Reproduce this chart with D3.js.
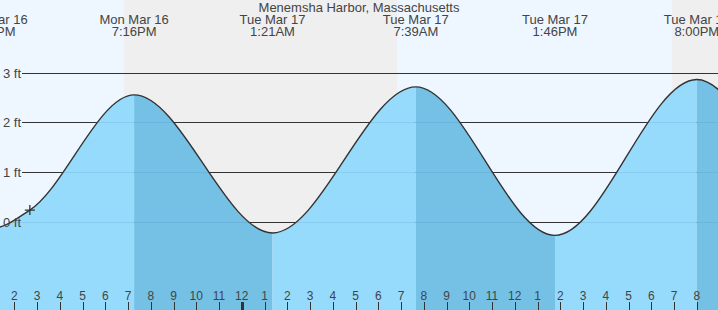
<!DOCTYPE html>
<html>
<head>
<meta charset="utf-8">
<script src="https://cdn.jsdelivr.net/npm/d3@7"></script>
<style>
html,body{margin:0;padding:0;background:#fff;}
svg{display:block;font-family:"Liberation Sans",Arial,sans-serif;}
</style>
</head>
<body>
<svg id="chart" width="718" height="310"></svg>
<script>
// ---- data ----
const title = "Menemsha Harbor, Massachusetts";
// high / low tides
const extremeTimes = ["2026-03-16T06:55","2026-03-16T13:04","2026-03-16T19:16","2026-03-17T01:21","2026-03-17T07:39","2026-03-17T13:46","2026-03-17T20:00","2026-03-18T02:10","2026-03-18T08:25"];
const extremeHeights = [2.50, -0.12, 2.56, -0.22, 2.72, -0.27, 2.87, -0.30, 2.90];
const extremeDays = ["Mon Mar 16","Mon Mar 16","Mon Mar 16","Tue Mar 17","Tue Mar 17","Tue Mar 17","Tue Mar 17","Wed Mar 18","Wed Mar 18"];
const extremeClock = ["6:55AM","1:04PM","7:16PM","1:21AM","7:39AM","1:46PM","8:00PM","2:10AM","8:25AM"];
// current level (the "+" mark), also a point of the curve
const markerTime = "2026-03-16T14:41";
const markerHeight = 0.24;
const sunsetTimes = ["2026-03-16T18:49","2026-03-17T18:55"];
const sunriseTimes = ["2026-03-17T06:50","2026-03-18T06:48"];
const yTickValues = [0, 1, 2, 3];
const yTickLabels = ["0 ft", "1 ft", "2 ft", "3 ft"];

// ---- setup ----
const W = 718, H = 310;
const parse = d3.timeParse("%Y-%m-%dT%H:%M");
const parseS = d3.timeParse("%Y-%m-%dT%H:%M:%S");
const ext = extremeTimes.map((t, i) => ({t: parse(t), v: extremeHeights[i], day: extremeDays[i], clock: extremeClock[i]}));
const pts = ext.map(d => ({t: d.t, v: d.v}))
  .concat([{t: parse(markerTime), v: markerHeight}])
  .sort((a, b) => a.t - b.t);

const x = d3.scaleTime()
  .domain([parseS("2026-03-16T13:22:17"), parseS("2026-03-17T20:55:55")])
  .range([0, W]);
const y = d3.scaleLinear().domain([0, 3]).range([222, 73]);

const svg = d3.select("#chart");
const defs = svg.append("defs");

// background (day)
svg.append("rect").attr("x", 0).attr("y", 0).attr("width", W).attr("height", H).attr("fill", "#eef7ff");

// night
sunsetTimes.forEach((s, i) => {
  const a = parse(s), b = parse(sunriseTimes[i]);
  const xa = Math.max(0, x(a)), xb = Math.min(W, x(b));
  if (xb > xa) svg.append("rect").attr("x", xa).attr("y", 0).attr("width", xb - xa).attr("height", H).attr("fill", "#efefef");
});

// grid lines (dark)
svg.selectAll("line.grid").data(yTickValues).enter().append("line")
  .attr("x1", 22).attr("x2", W).attr("y1", d => y(d)).attr("y2", d => y(d))
  .attr("stroke", "#333").attr("stroke-width", 1).attr("shape-rendering", "crispEdges");

// area
const area = d3.area().x(d => x(d.t)).y0(H).y1(d => y(d.v)).curve(d3.curveMonotoneX);
const line = d3.line().x(d => x(d.t)).y(d => y(d.v)).curve(d3.curveMonotoneX);

defs.append("clipPath").attr("id", "areaClip").append("path").attr("d", area(pts));
const g = svg.append("g").attr("clip-path", "url(#areaClip)");
for (let i = 0; i < ext.length - 1; i++) {
  const a = ext[i], b = ext[i + 1];
  const rising = b.v > a.v;
  g.append("rect").attr("x", x(a.t)).attr("y", 0).attr("width", x(b.t) - x(a.t)).attr("height", H)
    .attr("fill", rising ? "#97dbfc" : "#74c1e5");
}
// faint grid lines inside the water
g.selectAll("line.fgrid").data(yTickValues).enter().append("line")
  .attr("x1", 0).attr("x2", W).attr("y1", d => y(d)).attr("y2", d => y(d))
  .attr("stroke", "rgba(30,100,150,0.12)").attr("stroke-width", 1).attr("shape-rendering", "crispEdges");

// curve
svg.append("path").attr("d", line(pts)).attr("fill", "none").attr("stroke", "#333").attr("stroke-width", 1.4);

// marker cross
const mx = x(parse(markerTime)), my = y(markerHeight);
svg.append("path").attr("d", `M${mx-5},${my}H${mx+5}M${mx},${my-5}V${my+5}`)
  .attr("stroke", "#333").attr("stroke-width", 1.3).attr("fill", "none");

// y labels
svg.selectAll("text.ylab").data(yTickValues).enter().append("text")
  .attr("x", 3).attr("y", d => y(d) + 4.5).attr("font-size", 13).attr("fill", "#444")
  .text((d, i) => yTickLabels[i]);

// title
svg.append("text").attr("x", 359).attr("y", 12).attr("text-anchor", "middle")
  .attr("font-size", 13).attr("fill", "#444").text(title);

// extreme labels
const lab = svg.selectAll("g.lab").data(ext).enter().append("g")
  .attr("transform", d => `translate(${x(d.t)},0)`);
lab.append("text").attr("y", 24).attr("text-anchor", "middle").attr("font-size", 13).attr("fill", "#444").text(d => d.day);
lab.append("text").attr("y", 36).attr("text-anchor", "middle").attr("font-size", 13).attr("fill", "#444").text(d => d.clock);

// bottom hour axis
const hours = x.ticks(d3.timeHour.every(1));
const fmt = d3.timeFormat("%-I");
const ax = svg.append("g");
ax.selectAll("line").data(hours).enter().append("line")
  .attr("x1", d => Math.round(x(d)) + 0.5).attr("x2", d => Math.round(x(d)) + 0.5)
  .attr("y1", 302).attr("y2", H)
  .attr("stroke", "#333").attr("stroke-width", d => d.getHours() === 0 ? 3 : 1);
ax.selectAll("text").data(hours).enter().append("text")
  .attr("x", d => x(d)).attr("y", 300).attr("text-anchor", "middle")
  .attr("font-size", 12).attr("fill", "#444").text(d => fmt(d));
</script>
</body>
</html>
